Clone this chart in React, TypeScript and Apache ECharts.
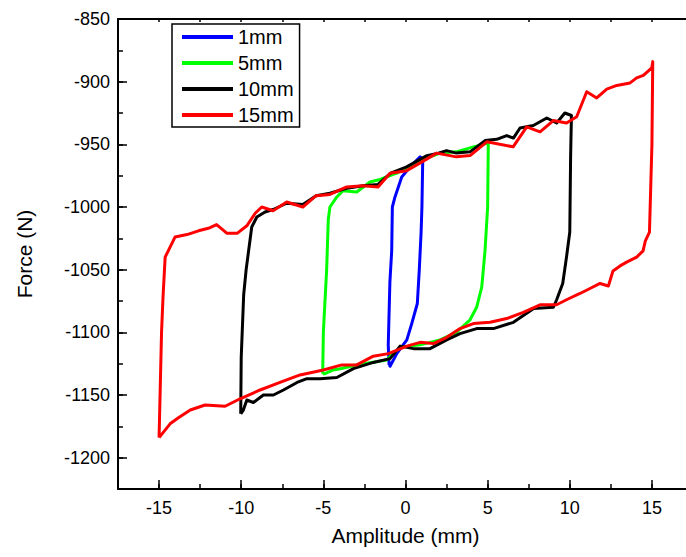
import React, { useEffect, useRef } from "react";
import * as echarts from "echarts";

const seriesNames = ["1mm", "5mm", "10mm", "15mm"];
const seriesColors = ["#0000ff", "#00ff00", "#000000", "#ff0000"];

const loop1mm: [number, number][] = [
  [-1.0, -1126], [-1.05, -1110], [-0.95, -1060], [-0.84, -1035], [-0.8, -1000],
  [-0.64, -992], [-0.23, -976], [0.28, -968], [0.89, -960], [1.05, -962],
  [1.0, -1000], [0.95, -1020], [0.84, -1050], [0.72, -1077], [0.38, -1093],
  [0.08, -1106], [-0.53, -1117], [-0.94, -1127], [-1.0, -1126],
];

const loop5mm: [number, number][] = [
  [-5.04, -1133], [-5.0, -1100], [-4.8, -1050], [-4.7, -1010], [-4.6, -1000],
  [-4.18, -992], [-3.8, -987], [-2.97, -988], [-2.16, -980], [-1.55, -978],
  [-0.53, -973], [0.89, -963], [2.1, -957], [3.1, -956], [4.13, -952],
  [5.04, -949], [5.0, -1000], [4.84, -1035], [4.64, -1064], [4.33, -1080],
  [3.93, -1090], [3.1, -1100], [2.1, -1106], [0.89, -1110], [-0.33, -1112],
  [-1.15, -1122], [-2.97, -1126], [-3.98, -1129], [-4.4, -1130], [-4.9, -1133],
  [-5.04, -1133],
];

const loop10mm: [number, number][] = [
  [-10.03, -1165], [-10.0, -1120], [-9.85, -1070], [-9.7, -1050], [-9.36, -1016],
  [-9.05, -1008], [-8.55, -1004], [-8.06, -1002], [-7.23, -997], [-6.25, -998],
  [-5.44, -991], [-4.6, -989], [-3.58, -985], [-2.58, -983], [-1.67, -982],
  [-0.9, -973], [0.07, -968], [1.3, -959], [2.0, -957], [2.5, -955],
  [3.1, -957], [3.93, -956], [4.84, -947], [5.55, -946], [6.16, -943],
  [6.57, -945], [6.97, -937], [7.78, -935], [8.6, -929], [9.2, -933],
  [9.7, -925], [10.1, -927], [10.05, -960], [10.0, -1020], [9.8, -1040],
  [9.57, -1061], [9.2, -1074], [9.0, -1080], [7.8, -1081], [6.57, -1092],
  [5.35, -1097], [4.33, -1097], [3.32, -1101], [2.51, -1106], [1.49, -1113],
  [0.48, -1113], [-0.33, -1111], [-0.94, -1121], [-1.96, -1124], [-3.17, -1129],
  [-4.18, -1136], [-5.2, -1137], [-6.0, -1137], [-6.6, -1140], [-7.43, -1146],
  [-8.04, -1150], [-8.65, -1150], [-9.26, -1156], [-9.66, -1154], [-9.87, -1162],
  [-10.03, -1165],
];

const loop15mm: [number, number][] = [
  [-15.0, -1184], [-14.85, -1100], [-14.76, -1072], [-14.63, -1040], [-14.03, -1024],
  [-13.3, -1022], [-12.6, -1019], [-12.0, -1017], [-11.5, -1014], [-10.86, -1021],
  [-10.25, -1021], [-9.66, -1015], [-9.15, -1005], [-8.75, -1000], [-8.06, -1003],
  [-7.23, -996], [-6.25, -1000], [-5.44, -991], [-4.6, -990], [-3.58, -984],
  [-2.58, -983], [-1.67, -984], [-0.94, -973], [0.07, -971], [1.0, -964],
  [1.9, -957], [3.1, -960], [3.93, -959], [4.95, -948], [6.55, -952],
  [7.38, -936], [8.19, -940], [9.0, -931], [9.8, -933], [10.42, -928],
  [11.03, -908], [11.64, -913], [12.25, -906], [12.86, -903], [13.67, -901],
  [14.07, -897], [14.48, -895], [14.99, -889], [15.05, -884], [15.0, -950],
  [14.85, -1020], [14.6, -1027], [14.46, -1035], [14.07, -1040], [13.46, -1044],
  [13.06, -1047], [12.63, -1051], [12.35, -1063], [11.84, -1061], [11.23, -1065],
  [10.62, -1069], [9.8, -1074], [9.2, -1078], [8.19, -1078], [7.17, -1084],
  [6.16, -1089], [5.15, -1092], [4.13, -1093], [3.32, -1097], [2.51, -1104],
  [1.7, -1109], [0.89, -1108], [0.08, -1111], [-1.04, -1117], [-1.96, -1119],
  [-2.97, -1126], [-3.88, -1126], [-5.0, -1130], [-6.42, -1134], [-7.64, -1140],
  [-8.85, -1146], [-10.07, -1153], [-10.98, -1159], [-12.2, -1158], [-13.1, -1162],
  [-13.8, -1168], [-14.33, -1173], [-15.0, -1184],
];

const loops = [loop1mm, loop5mm, loop10mm, loop15mm];

const xMajorTicks = [-15, -10, -5, 0, 5, 10, 15];
const yMajorTicks = [-1200, -1150, -1100, -1050, -1000, -950, -900, -850];

const FONT = "Liberation Sans";

export default function App() {
  const ref = useRef<HTMLDivElement>(null);
  useEffect(() => {
    if (!ref.current) return;
    const chart = echarts.init(ref.current, undefined, { renderer: "svg" });
    const xRange = { min: -17.5, max: 17.5 };
    const yRange = { min: -1225, max: -850 };
    const line = { show: true, onZero: false, lineStyle: { color: "#000", width: 2 } };
    const noLine = { show: false, onZero: false };
    const fmt = (v: number) => String(v);
    chart.setOption({
      animation: false,
      backgroundColor: "#fff",
      grid: { left: 118, top: 19, right: 7, bottom: 68 },
      legend: {
        orient: "vertical",
        left: 172,
        top: 24,
        data: seriesNames,
        icon: "rect",
        itemWidth: 51,
        itemHeight: 4,
        itemGap: 6,
        padding: [3, 6, 2, 10],
        borderColor: "#000",
        borderWidth: 1.5,
        selectedMode: false,
        textStyle: { fontSize: 20, color: "#000", fontFamily: FONT },
      },
      xAxis: [
        {
          type: "value", position: "bottom", ...xRange, interval: 2.5,
          axisLine: line,
          axisTick: { inside: true, length: 5, lineStyle: { color: "#000", width: 1.5 } },
          axisLabel: { show: false },
          splitLine: { show: false },
          name: "Amplitude (mm)", nameLocation: "middle", nameGap: 36,
          nameTextStyle: { fontSize: 21, color: "#000", fontFamily: FONT },
        },
        {
          type: "value", position: "bottom", ...xRange,
          axisLine: noLine,
          axisTick: { inside: true, length: 9, customValues: xMajorTicks, lineStyle: { color: "#000", width: 1.5 } },
          axisLabel: { customValues: xMajorTicks, formatter: fmt, fontSize: 18, color: "#000", fontFamily: FONT, margin: 10 },
          splitLine: { show: false },
        },
        {
          type: "value", position: "top", ...xRange, interval: 2.5,
          axisLine: line,
          axisTick: { inside: true, length: 3, lineStyle: { color: "#000", width: 1.5 } },
          axisLabel: { show: false },
          splitLine: { show: false },
        },
      ],
      yAxis: [
        {
          type: "value", position: "left", ...yRange, interval: 25,
          axisLine: line,
          axisTick: { inside: true, length: 5, lineStyle: { color: "#000", width: 1.5 } },
          axisLabel: { show: false },
          splitLine: { show: false },
          name: "Force (N)", nameLocation: "middle", nameGap: 83,
          nameTextStyle: { fontSize: 21, color: "#000", fontFamily: FONT },
        },
        {
          type: "value", position: "left", ...yRange,
          axisLine: noLine,
          axisTick: { inside: true, length: 9, customValues: yMajorTicks, lineStyle: { color: "#000", width: 1.5 } },
          axisLabel: { customValues: yMajorTicks, formatter: fmt, fontSize: 18, color: "#000", fontFamily: FONT, margin: 8 },
          splitLine: { show: false },
        },
        {
          type: "value", position: "right", ...yRange, interval: 25,
          axisLine: line,
          axisTick: { inside: true, length: 3, lineStyle: { color: "#000", width: 1.5 } },
          axisLabel: { show: false },
          splitLine: { show: false },
        },
      ],
      series: loops.map((d, i) => ({
        name: seriesNames[i],
        type: "line",
        xAxisIndex: 0,
        yAxisIndex: 0,
        data: d,
        showSymbol: false,
        symbol: "none",
        color: seriesColors[i],
        lineStyle: { color: seriesColors[i], width: 3, join: "round" },
        z: 2 + i,
      })),
    });
    return () => chart.dispose();
  }, []);
  return (
    <div style={{ position: "fixed", left: 0, top: 0, width: 686, height: 557, overflow: "hidden" }}>
      <div ref={ref} style={{ width: 700, height: 557 }} />
    </div>
  );
}
